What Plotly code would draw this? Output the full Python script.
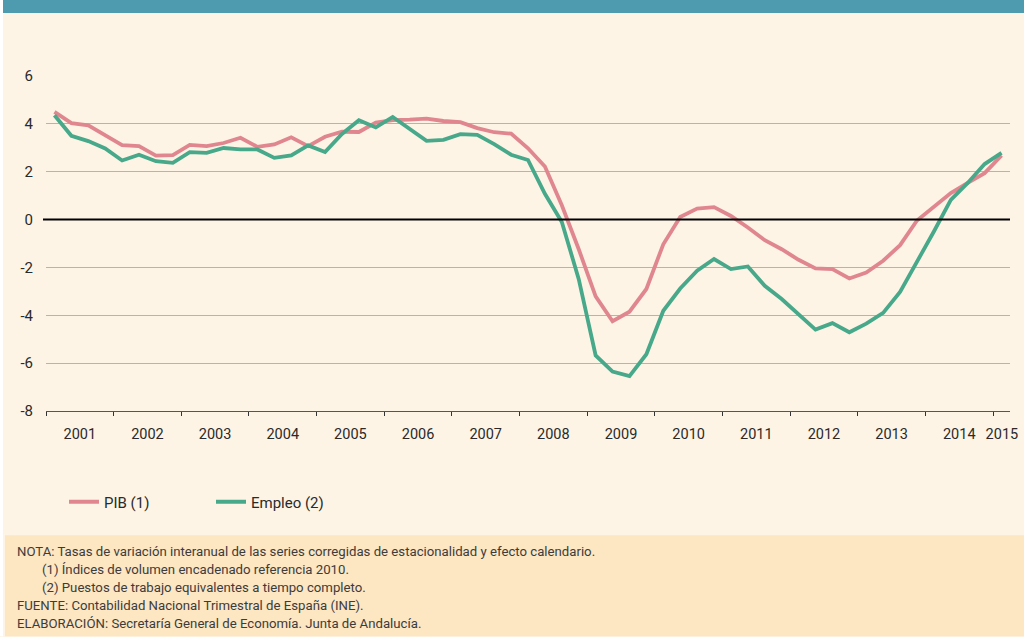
import plotly.graph_objects as go

# ---- data ----
years = list(range(2001, 2016))
quarter_year = [y for y in range(2001, 2015) for q in range(4)] + [2015]
quarter_num = [q for y in range(2001, 2015) for q in range(1, 5)] + [1]

pib = [4.50, 4.03, 3.94, 3.53, 3.11, 3.07, 2.67, 2.69, 3.12, 3.07,
       3.20, 3.42, 3.04, 3.14, 3.44, 3.07, 3.46, 3.67, 3.66, 4.05,
       4.16, 4.18, 4.22, 4.12, 4.07, 3.82, 3.65, 3.59, 2.98, 2.22,
       0.60, -1.24, -3.21, -4.25, -3.85, -2.90, -1.03, 0.11, 0.46, 0.52,
       0.15, -0.33, -0.86, -1.24, -1.68, -2.04, -2.07, -2.46, -2.21, -1.72,
       -1.07, -0.04, 0.51, 1.11, 1.53, 1.94, 2.68]

empleo = [4.36, 3.50, 3.28, 2.97, 2.47, 2.71, 2.44, 2.37, 2.82, 2.79,
          2.99, 2.93, 2.93, 2.58, 2.68, 3.10, 2.82, 3.58, 4.15, 3.85,
          4.29, 3.79, 3.29, 3.33, 3.57, 3.54, 3.15, 2.71, 2.49, 1.08,
          -0.10, -2.49, -5.68, -6.35, -6.54, -5.63, -3.81, -2.88, -2.14, -1.65,
          -2.07, -1.96, -2.77, -3.32, -3.97, -4.60, -4.33, -4.71, -4.35, -3.90,
          -3.02, -1.79, -0.50, 0.82, 1.53, 2.32, 2.79]

year_labels = [str(y) for y in years]
y_ticks = [-8, -6, -4, -2, 0, 2, 4, 6]
y_labels = ["-8", "-6", "-4", "-2", "0", "2", "4", "6"]

notes = [
    "NOTA: Tasas de variación interanual de las series corregidas de estacionalidad y efecto calendario.",
    "(1) Índices de volumen encadenado referencia 2010.",
    "(2) Puestos de trabajo equivalentes a tiempo completo.",
    "FUENTE: Contabilidad Nacional Trimestral de España (INE).",
    "ELABORACIÓN: Secretaría General de Economía. Junta de Andalucía.",
]
note_indent = [False, True, True, False, False]

# ---- layout geometry (pixels) ----
W, H = 1024, 637
L, R, T, B = 46, 14, 76, 225.5
pw, ph = W - L - R, H - T - B

def px_x(px):
    return (px - L) / pw

def px_y(py):
    return (H - B - py) / ph

x = [yy + (q - 0.5) / 4 for yy, q in zip(quarter_year, quarter_num)]

label_pos = [yy + 0.5 for yy in years[:-1]] + [years[-1] + 0.13]

font_main = "Roboto, Liberation Sans, sans-serif"
font_note = "Roboto, DejaVu Sans, sans-serif"
txt_col = "#2a2a2a"

fig = go.Figure()
fig.add_trace(go.Scatter(x=x, y=pib, mode="lines", name="PIB (1)",
                         line=dict(color="#e0868f", width=3.8)))
fig.add_trace(go.Scatter(x=x, y=empleo, mode="lines", name="Empleo (2)",
                         line=dict(color="#47a88a", width=3.8)))

shapes = [
    # white strip left
    dict(type="rect", xref="paper", yref="paper", x0=px_x(0), x1=px_x(3),
         y0=px_y(H), y1=px_y(0), fillcolor="white", line=dict(width=0), layer="below"),
    # top teal bar
    dict(type="rect", xref="paper", yref="paper", x0=px_x(3), x1=px_x(W),
         y0=px_y(13), y1=px_y(0), fillcolor="#4e9aae", line=dict(width=0), layer="below"),
    # footer box
    dict(type="rect", xref="paper", yref="paper", x0=px_x(5), x1=px_x(W),
         y0=px_y(H), y1=px_y(536), fillcolor="#fde6c2", line=dict(width=0), layer="below"),
    # zero line
    dict(type="line", xref="paper", yref="y", x0=px_x(43), x1=1, y0=0, y1=0,
         line=dict(color="black", width=2)),
]

annotations = []
note_y = [552, 570, 588, 606, 624]
for txt, ind, yy in zip(notes, note_indent, note_y):
    annotations.append(dict(
        text=txt, xref="paper", yref="paper", x=px_x(40 if ind else 15), y=px_y(yy),
        xanchor="left", yanchor="middle", showarrow=False,
        font=dict(family=font_note, size=13.2, color="#3c3c3c")))

fig.update_layout(
    width=W, height=H,
    margin=dict(l=L, r=R, t=T, b=B, autoexpand=False),
    paper_bgcolor="#fdf4e6", plot_bgcolor="#fdf4e6",
    shapes=shapes, annotations=annotations,
    font=dict(family=font_main, size=14.5, color=txt_col),
    showlegend=True,
    legend=dict(orientation="h", xref="container", yref="container",
                x=64 / W, y=(H - 502) / H, xanchor="left", yanchor="middle",
                bgcolor="rgba(0,0,0,0)", font=dict(family=font_main, size=15, color=txt_col),
                entrywidth=102, entrywidthmode="pixels", itemwidth=30),
    xaxis=dict(range=[2001, 2015.25], tickvals=label_pos, ticktext=year_labels,
               ticks="outside", ticklen=0, showgrid=False, zeroline=False,
               showline=True, linecolor="#555555", linewidth=1.3,
               ticklabelstandoff=9,
               minor=dict(tickvals=years, ticks="outside", ticklen=4,
                          tickcolor="#333333", tickwidth=1.3, showgrid=False),
               tickfont=dict(family=font_main, size=14.5, color=txt_col)),
    yaxis=dict(range=[-8, 6], tickvals=y_ticks, ticktext=y_labels,
               showgrid=True, gridcolor="#b4b4b4",
               gridwidth=1, zeroline=False, showline=False, ticks="",
               ticklabelstandoff=12,
               tickfont=dict(family=font_main, size=15, color=txt_col)),
)

fig.write_html("out.html", config={"displayModeBar": False},
               post_script="document.body.style.margin='0px';")
